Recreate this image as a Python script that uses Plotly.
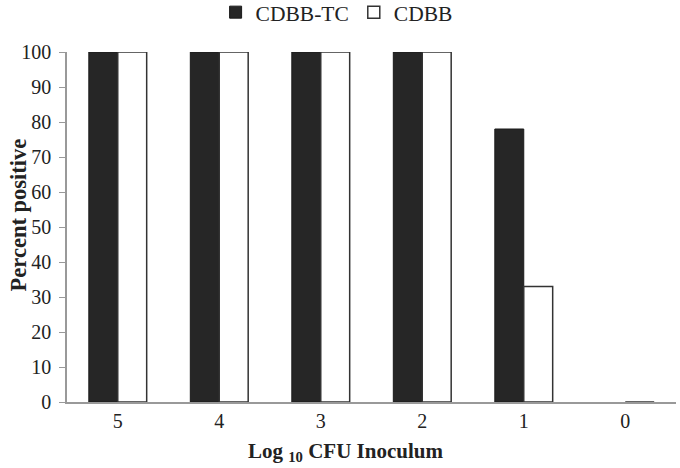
import plotly.graph_objects as go

# 데이터
categories = ['5', '4', '3', '2', '1', '0']
cdbb_tc = [100, 100, 100, 100, 78, 0]
cdbb = [100, 100, 100, 100, 33, 0]
y_ticks = [0, 10, 20, 30, 40, 50, 60, 70, 80, 90, 100]

FONT = 'Liberation Serif, Times New Roman, serif'

fig = go.Figure()
fig.add_trace(go.Bar(
    x=categories, y=cdbb_tc, name='CDBB-TC',
    marker=dict(color='#262626',
                line=dict(color='#1a1a1a', width=[1 if v > 0 else 0 for v in cdbb_tc])),
))
fig.add_trace(go.Bar(
    x=categories, y=cdbb, name='CDBB',
    marker=dict(color='#ffffff', line=dict(color='#333333', width=1.5)),
))

fig.update_layout(
    width=680, height=468,
    margin=dict(l=67, r=4, t=52, b=66, autoexpand=False),
    paper_bgcolor='white', plot_bgcolor='white',
    barmode='group', bargap=0.43, bargroupgap=0,
    font=dict(family=FONT, size=20, color='#222'),
    showlegend=True,
    legend=dict(
        orientation='h', xref='container', x=0.495, xanchor='center',
        yref='container', y=0.974, yanchor='middle',
        font=dict(size=21.5), itemwidth=30, tracegroupgap=0,
    ),
    annotations=[
        dict(text='<b>Percent positive</b>', textangle=-90,
             xref='paper', yref='paper', x=-0.08, y=0.534,
             xanchor='center', yanchor='middle', showarrow=False,
             font=dict(size=22.5)),
        dict(text='<b>Log <sub>10</sub> CFU Inoculum</b>',
             xref='paper', yref='paper', x=0.458, y=-0.143,
             xanchor='center', yanchor='middle', showarrow=False,
             font=dict(size=21)),
    ],
)
fig.update_xaxes(
    showline=True, linecolor='#999', linewidth=1.5,
    ticks='', showgrid=False, automargin=False,
)
fig.update_yaxes(
    range=[0, 100], tickvals=y_ticks,
    showline=True, linecolor='#999', linewidth=1.5,
    ticks='outside', ticklen=6, tickcolor='#999',
    ticklabelstandoff=4,
    showgrid=False, zeroline=False, automargin=False,
)

# 페이지 기본 여백 제거
fig.write_html('out.html', config={'displayModeBar': False},
               post_script="document.body.style.margin='0';")
